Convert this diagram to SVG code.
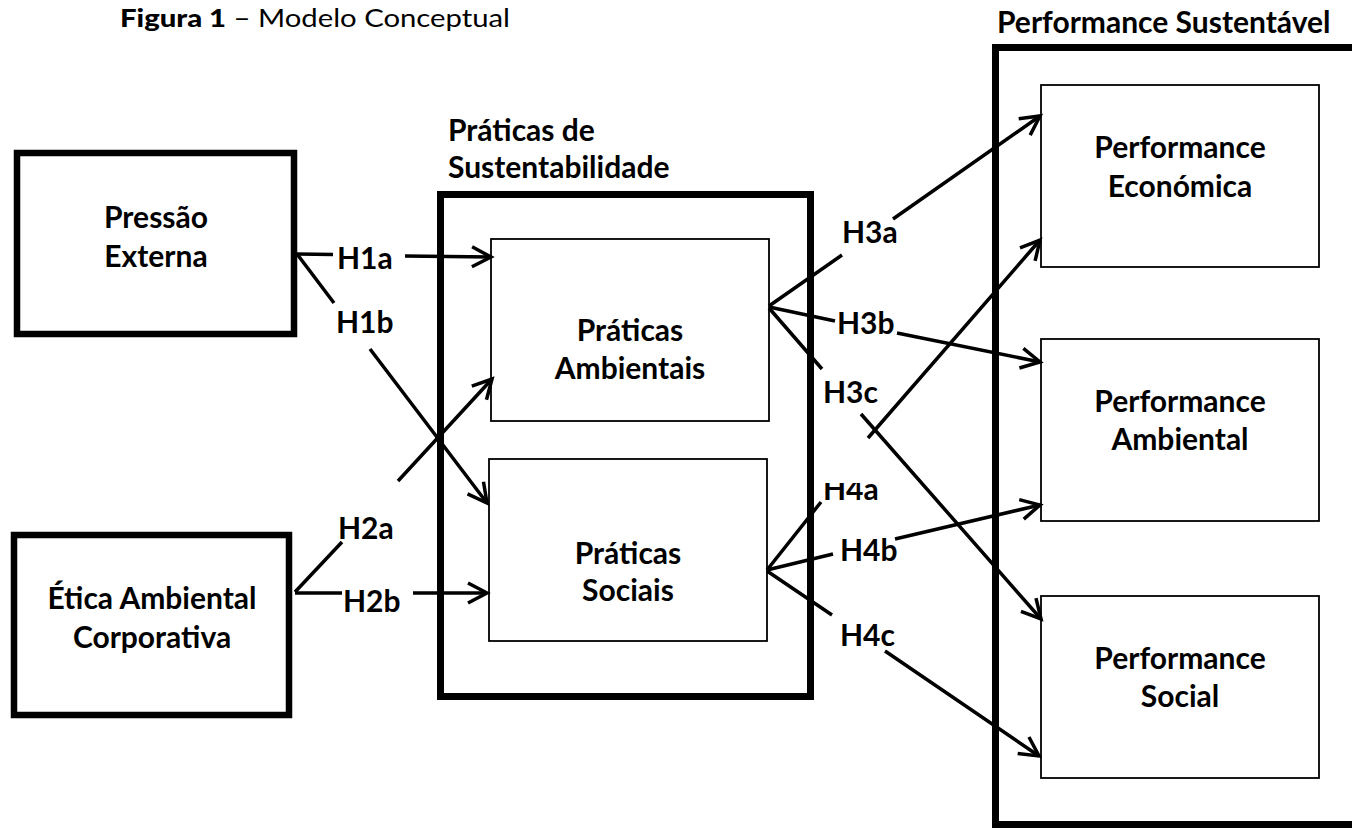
<svg xmlns="http://www.w3.org/2000/svg" width="1352" height="830" viewBox="0 0 1352 830">
<style>
.thick{fill:#fff;stroke:#000;stroke-width:6.5}
.cont{fill:none;stroke:#000;stroke-width:7}
.thin{fill:#fff;stroke:#000;stroke-width:1.8}
.t{font-family:Lato,"Liberation Sans",sans-serif;font-weight:bold;font-size:30px;fill:#000}
.c{text-anchor:middle}
.conn{fill:none;stroke:#000;stroke-width:3.5;marker-end:url(#arr)}
.title{font-family:Lato,"Liberation Sans",sans-serif;font-size:25px;fill:#000}
</style>
<defs>
<marker id="arr" markerUnits="userSpaceOnUse" markerWidth="30" markerHeight="30" orient="auto" refX="0" refY="0" viewBox="-25 -15 30 30" overflow="visible">
<path d="M-19,-10 L0,0 L-19,10" fill="none" stroke="#000" stroke-width="3.5" stroke-linejoin="miter"/>
</marker>
<clipPath id="h4aclip"><rect x="800" y="483" width="100" height="40"/></clipPath>
</defs>
<rect width="1352" height="830" fill="#fff"/>
<text class="title" x="120" y="27" textLength="390" lengthAdjust="spacingAndGlyphs"><tspan font-weight="900">Figura 1</tspan> – Modelo Conceptual</text>

<g id="pressao-externa">
<rect class="thick" x="17" y="153" width="277" height="181"/>
<text class="t c" x="156" y="228">Pressão</text>
<text class="t c" x="156" y="267">Externa</text>
</g>
<g id="etica-ambiental">
<rect class="thick" x="14" y="535" width="275" height="180"/>
<text class="t c" x="152" y="609">Ética Ambiental</text>
<text class="t c" x="152" y="648">Corporativa</text>
</g>
<g id="praticas-sustentabilidade">
<text class="t" x="448" y="141">Práticas de</text>
<text class="t" x="448" y="178">Sustentabilidade</text>
<rect class="cont" x="440.5" y="194.5" width="370" height="502"/>
</g>
<g id="praticas-ambientais">
<rect class="thin" x="491" y="239" width="278" height="182"/>
<text class="t c" x="630" y="341">Práticas</text>
<text class="t c" x="630" y="379">Ambientais</text>
</g>
<g id="praticas-sociais">
<rect class="thin" x="489" y="459" width="278" height="182"/>
<text class="t c" x="628" y="564">Práticas</text>
<text class="t c" x="628" y="601">Sociais</text>
</g>
<g id="performance-sustentavel">
<text class="t" x="997" y="33">Performance Sustentável</text>
<rect class="cont" x="995.5" y="47.5" width="420" height="777"/>
</g>
<g id="performance-economica">
<rect class="thin" x="1041" y="85" width="278" height="182"/>
<text class="t c" x="1180" y="158">Performance</text>
<text class="t c" x="1180" y="197">Económica</text>
</g>
<g id="performance-ambiental">
<rect class="thin" x="1041" y="339" width="278" height="182"/>
<text class="t c" x="1180" y="412">Performance</text>
<text class="t c" x="1180" y="450">Ambiental</text>
</g>
<g id="performance-social">
<rect class="thin" x="1041" y="596" width="278" height="182"/>
<text class="t c" x="1180" y="669">Performance</text>
<text class="t c" x="1180" y="707">Social</text>
</g>

<g id="connectors">
<path class="conn" d="M297,254 L333,254.5 M405,256 L491,257"/>
<path class="conn" d="M297,254 L334,303 M370,349 L487,503"/>
<path class="conn" d="M295,592 L342,542 M398,481 L492,379"/>
<path class="conn" d="M295,593 L342,593 M413,593 L487,593"/>
<path class="conn" d="M769,306 L842,255 M893,219 L1040,116"/>
<path class="conn" d="M769,307 L835,321 M897,333 L1040,362"/>
<path class="conn" d="M769,308 L822,369 M861,414 L1041,619"/>
<path class="conn" d="M767,570 L821,502 M868,438 L1040,240"/>
<path class="conn" d="M767,570 L833,554 M895,539 L1040,505"/>
<path class="conn" d="M767,571 L832,615 M885,651 L1039,756"/>
<text class="t" x="337" y="269">H1a</text>
<text class="t" x="336" y="333">H1b</text>
<text class="t" x="338" y="539">H2a</text>
<text class="t" x="343" y="612">H2b</text>
<text class="t" x="842" y="243">H3a</text>
<text class="t" x="837" y="334">H3b</text>
<text class="t" x="823" y="403">H3c</text>
<text class="t" x="823" y="500" clip-path="url(#h4aclip)">H4a</text>
<text class="t" x="840" y="561">H4b</text>
<text class="t" x="840" y="646">H4c</text>
</g>
</svg>
